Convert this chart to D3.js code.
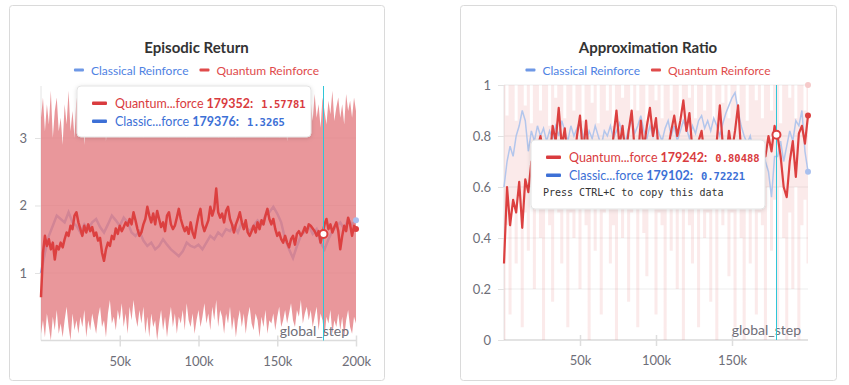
<!DOCTYPE html>
<html>
<head>
<meta charset="utf-8">
<script src="https://cdn.jsdelivr.net/npm/d3@7"></script>
<style>
body { margin: 0; background: #fff; }
</style>
</head>
<body>
<script>

// ---- data ----
// Episodic Return, quantum run, logged every 1250 steps
var returnQuantum = [
  0.64,1.3,1.55,1.4,1.5,1.35,1.45,1.2,1.4,1.35,
  1.45,1.38,1.5,1.6,1.55,1.7,1.65,1.85,1.9,1.75,
  1.65,1.55,1.7,1.6,1.72,1.62,1.68,1.55,1.6,1.48,
  1.52,1.3,1.18,1.35,1.45,1.4,1.55,1.5,1.66,1.58,
  1.7,1.62,1.68,1.75,1.7,1.8,1.72,1.9,1.78,1.65,
  1.55,1.6,1.72,1.8,1.98,1.85,1.75,1.88,1.72,1.92,
  1.8,1.68,1.75,1.62,1.85,1.9,1.72,1.65,1.7,1.82,
  1.95,1.8,1.7,1.62,1.68,1.58,1.75,1.6,1.52,1.7,
  1.85,1.95,1.72,1.62,1.7,1.78,1.98,1.85,1.95,2.25,
  1.9,1.82,1.88,1.75,1.92,1.98,1.8,1.72,1.6,1.72,
  1.8,1.9,1.75,1.65,1.78,1.6,1.55,1.62,1.7,1.6,
  1.75,1.65,1.78,1.72,1.85,1.95,1.8,1.72,1.8,1.65,
  1.55,1.6,1.5,1.45,1.55,1.45,1.38,1.5,1.55,1.42,
  1.58,1.62,1.55,1.6,1.68,1.6,1.72,1.7,1.66,1.62,
  1.55,1.62,1.45,1.58,1.72,1.8,1.65,1.72,1.6,1.68,
  1.75,1.62,1.35,1.55,1.7,1.62,1.82,1.72,1.55,1.7,1.65
];
var returnQuantumMax = [
  3.3,3.6,3.1,3.5,3.2,3.7,3.0,3.4,3.6,3.1,
  3.3,2.9,3.5,3.2,3.7,3.1,3.4,3.0,3.6,3.3,
  3.2,3.5,2.9,3.4,3.1,3.6,3.3,3.0,3.5,3.2,
  3.4,3.1,3.6,2.95,3.3,3.5,3.1,3.4,3.2,3.6,
  3.0,3.35,3.5,3.15,3.4,3.0,3.6,3.25,3.45,3.1,
  3.3,3.55,3.0,3.4,3.2,3.5,3.1,3.35,3.6,3.05,
  3.3,3.45,3.15,3.5,3.25,3.0,3.4,3.6,3.2,3.35,
  3.1,3.5,3.3,3.45,3.0,3.25,3.55,3.2,3.4,3.1,
  3.35,3.6,3.15,3.3,3.5,3.05,3.4,3.25,3.55,3.2,
  3.0,3.45,3.3,3.6,3.1,3.35,3.5,3.2,3.4,3.0,
  3.3,3.55,3.15,3.45,3.25,3.6,3.05,3.35,3.5,3.2,
  3.4,3.1,3.3,3.55,3.0,3.45,3.2,3.35,3.6,3.15,
  3.3,3.0,3.4,3.25,3.5,2.95,3.3,3.45,3.1,3.35,
  3.2,3.5,3.05,3.4,3.6,3.2,3.45,3.55,3.25,3.65,
  3.3,3.5,3.15,3.6,3.4,3.2,3.55,3.35,3.7,3.25,
  3.45,3.6,3.3,3.5,3.2,3.65,3.4,3.55,3.3,3.6,3.4
];
var returnQuantumMin = [
  0.1,0.3,0.05,0.4,0.2,0.0,0.35,0.15,0.45,0.1,
  0.25,0.05,0.3,0.5,0.2,0.0,0.4,0.15,0.3,0.1,
  0.35,0.2,0.45,0.05,0.3,0.15,0.4,0.25,0.1,0.35,
  0.5,0.2,0.3,0.05,0.4,0.6,0.25,0.35,0.15,0.45,
  0.3,0.55,0.2,0.4,0.1,0.5,0.3,0.6,0.35,0.2,
  0.45,0.25,0.5,0.1,0.35,0.05,0.4,0.2,0.3,0.0,
  0.25,0.45,0.15,0.35,0.05,0.3,0.5,0.2,0.4,0.1,
  0.35,0.25,0.45,0.15,0.55,0.3,0.2,0.4,0.1,0.3,
  0.45,0.2,0.35,0.55,0.25,0.4,0.15,0.5,0.3,0.6,
  0.2,0.45,0.35,0.1,0.4,0.25,0.5,0.15,0.35,0.05,
  0.3,0.45,0.2,0.4,0.1,0.35,0.5,0.25,0.15,0.4,
  0.3,0.05,0.35,0.2,0.45,0.1,0.3,0.25,0.4,0.15,
  0.35,0.5,0.2,0.3,0.45,0.25,0.4,0.55,0.3,0.2,
  0.45,0.35,0.6,0.25,0.4,0.5,0.3,0.45,0.2,0.35,
  0.5,0.15,0.4,0.3,0.05,0.35,0.25,0.45,0.1,0.3,
  0.2,0.4,0.15,0.35,0.05,0.3,0.45,0.2,0.1,0.35,0.25
];
// Episodic Return, classical run, logged every 2500 steps
var returnClassical = [
  1.0,1.3,1.55,1.7,1.85,1.8,1.75,1.9,1.75,1.7,
  1.6,1.72,1.65,1.75,1.8,1.68,1.6,1.72,1.85,1.78,
  1.7,1.82,1.75,1.6,1.55,1.62,1.48,1.4,1.45,1.35,
  1.4,1.5,1.42,1.35,1.3,1.25,1.32,1.45,1.4,1.38,
  1.42,1.35,1.45,1.55,1.5,1.6,1.55,1.65,1.62,1.7,
  1.6,1.75,1.68,1.62,1.7,1.78,1.72,1.85,1.9,1.98,
  1.88,1.75,1.5,1.35,1.22,1.4,1.55,1.62,1.7,1.58,
  1.65,1.45,1.35,1.5,1.62,1.7,1.75,1.65,1.8,1.72,
  1.78
];

// Approximation Ratio, both runs logged every 2000 steps
var ratioQuantum = [
  0.30,0.60,0.45,0.55,0.50,0.62,0.44,0.63,0.58,0.70,
  0.66,0.75,0.80,0.72,0.78,0.70,0.84,0.78,0.91,0.76,
  0.83,0.70,0.74,0.68,0.80,0.88,0.72,0.86,0.70,0.74,
  0.66,0.72,0.64,0.70,0.76,0.68,0.80,0.90,0.76,0.84,
  0.72,0.82,0.90,0.74,0.70,0.86,0.75,0.84,0.91,0.80,
  0.87,0.72,0.78,0.68,0.75,0.82,0.88,0.80,0.86,0.94,
  0.82,0.89,0.74,0.70,0.78,0.82,0.72,0.66,0.74,0.70,
  0.78,0.92,0.76,0.70,0.82,0.74,0.82,0.92,0.74,0.68,
  0.72,0.66,0.70,0.64,0.72,0.76,0.72,0.80,0.74,0.84,
  0.80,0.72,0.60,0.56,0.70,0.78,0.64,0.81,0.84,0.77,
  0.88
];
var ratioClassical = [
  0.60,0.70,0.76,0.72,0.80,0.84,0.90,0.86,0.74,0.82,
  0.78,0.84,0.80,0.83,0.78,0.82,0.79,0.84,0.80,0.86,
  0.82,0.78,0.84,0.80,0.83,0.86,0.80,0.77,0.82,0.79,
  0.84,0.80,0.76,0.82,0.80,0.84,0.79,0.82,0.85,0.80,
  0.78,0.83,0.86,0.81,0.84,0.88,0.82,0.79,0.84,0.80,
  0.85,0.81,0.78,0.83,0.86,0.80,0.84,0.78,0.82,0.86,
  0.83,0.79,0.84,0.81,0.86,0.88,0.83,0.86,0.82,0.87,
  0.84,0.80,0.85,0.89,0.92,0.95,0.97,0.90,0.84,0.80,
  0.77,0.80,0.74,0.78,0.72,0.76,0.70,0.66,0.56,0.72,
  0.72,0.78,0.70,0.76,0.82,0.78,0.86,0.84,0.90,0.74,
  0.66
];
var ratioQuantumMax = [
  1,0.88,1,1,0.86,1,1,0.92,1,0.85,
  1,1,0.9,1,1,0.84,1,0.95,1,1,
  0.87,1,1,0.9,1,1,0.86,1,1,0.93,
  1,0.85,1,1,0.9,1,0.84,1,1,0.95,
  1,1,0.88,1,0.9,1,1,0.86,1,1,
  0.94,1,0.87,1,1,0.9,1,1,0.85,1,
  1,0.95,1,0.87,1,1,0.9,1,1,0.86,
  1,1,0.93,1,0.87,1,1,0.9,1,1,
  0.86,1,1,0.94,1,0.87,1,1,0.9,1,
  1,0.85,1,1,0.95,1,0.87,1,1,0.9,
  1
];
var ratioQuantumMin = [
  0.0,0.45,0.1,0.55,0.3,0.6,0.05,0.5,0.35,0.6,
  0.2,0.55,0.4,0.0,0.6,0.45,0.15,0.55,0.5,0.3,
  0.6,0.05,0.5,0.4,0.62,0.2,0.55,0.45,0.0,0.6,
  0.35,0.55,0.1,0.5,0.6,0.3,0.45,0.0,0.58,0.4,
  0.6,0.15,0.5,0.55,0.05,0.6,0.42,0.25,0.55,0.6,
  0.1,0.5,0.45,0.0,0.58,0.35,0.6,0.2,0.52,0.0,
  0.6,0.45,0.3,0.55,0.05,0.6,0.4,0.5,0.15,0.58,
  0.0,0.55,0.45,0.6,0.25,0.5,0.05,0.6,0.4,0.0,
  0.55,0.3,0.6,0.1,0.5,0.45,0.0,0.6,0.35,0.55,
  0.05,0.6,0.4,0.0,0.5,0.2,0.6,0.0,0.45,0.55,
  0.3
];

var returnYTicks = [1, 2, 3];
var ratioYTicks = [0, 0.2, 0.4, 0.6, 0.8, 1];
var returnXTicks = [50000, 100000, 150000, 200000];
var ratioXTicks = [50000, 100000, 150000];

var seriesNames = ["Classical Reinforce", "Quantum Reinforce"];
var returnHover = {quantum: [179352, "1.57781"], classical: [179376, "1.3265"]};
var ratioHover  = {quantum: [179242, "0.80488"], classical: [179102, "0.72221"]};

// ---- drawing ----
var SANS = "Lato, 'Noto Sans', sans-serif";
var MONO = "'DejaVu Sans Mono', 'Liberation Mono', monospace";
var RED = "#dc4040", GREY = "#6e6e78";

var svg = d3.select("body").append("svg")
    .attr("width", 849)
    .attr("height", 385)
    .attr("font-family", SANS);

svg.append("defs").append("filter").attr("id", "shadow")
    .attr("x", "-10%").attr("y", "-20%").attr("width", "120%").attr("height", "150%")
  .append("feDropShadow")
    .attr("dx", 0).attr("dy", 1).attr("stdDeviation", 2)
    .attr("flood-color", "#000").attr("flood-opacity", 0.14);

function frame(card, title) {
  var g = svg.append("g");
  g.append("rect")
      .attr("x", card.x + 0.5).attr("y", card.y + 0.5)
      .attr("width", card.w).attr("height", card.h)
      .attr("rx", 3).attr("fill", "#fff").attr("stroke", "#dadada");
  var cx = card.x + card.w / 2;
  g.append("text")
      .attr("x", cx).attr("y", 53)
      .attr("text-anchor", "middle")
      .attr("font-size", 15).attr("font-weight", 700).attr("fill", "#333")
      .text(title);

  // legend, centred under the title
  var leg = g.append("g");
  var lx = 0;
  seriesNames.forEach(function(name, i) {
    leg.append("rect").attr("x", lx).attr("y", -1.5).attr("width", 10).attr("height", 3)
        .attr("rx", 1).attr("fill", i ? "#e04b4b" : "#6e98e6");
    var t = leg.append("text").attr("x", lx + 17).attr("y", 4.5)
        .attr("font-size", 12).attr("fill", i ? "#e04b4b" : "#4f82e3").text(name);
    lx += 17 + t.node().getComputedTextLength() + 11;
  });
  lx -= 11;
  leg.attr("transform", "translate(" + (cx - lx / 2) + ",70)");
  return g;
}

function axes(g, x, y, xTicks, yTicks, labelPad) {
  var x0 = x.range()[0], x1 = x.range()[1];
  var y0 = y.range()[0], y1 = y.range()[1];

  g.append("g").selectAll("line").data(yTicks).join("line")
      .attr("x1", x0).attr("x2", x1)
      .attr("y1", d => y(d)).attr("y2", d => y(d))
      .attr("stroke", "#ededed");

  var ya = g.append("g").attr("transform", "translate(" + x0 + ",0)")
      .call(d3.axisLeft(y).tickValues(yTicks).tickSize(6).tickPadding(labelPad).tickFormat(d3.format("~g")));
  ya.select(".domain").remove();
  ya.selectAll("line").attr("stroke", "#e2e2e2");
  ya.selectAll("text").attr("font-size", 13).attr("fill", GREY).attr("font-family", SANS);
  g.append("line").attr("x1", x0).attr("x2", x0).attr("y1", y0).attr("y2", y1)
      .attr("stroke", "#e4e4e4");

  var xa = g.append("g").attr("transform", "translate(0," + y0 + ")")
      .call(d3.axisBottom(x).tickValues(xTicks).tickSize(6).tickFormat(d => d / 1000 + "k"));
  xa.select(".domain").remove();
  xa.selectAll("line").attr("y1", -5).attr("y2", 6).attr("stroke", "#dedede").attr("stroke-width", 1.5);
  xa.selectAll("text").attr("y", 16).attr("font-size", 13).attr("fill", GREY).attr("font-family", SANS);
  g.append("line").attr("x1", x0).attr("x2", x1).attr("y1", y0).attr("y2", y0)
      .attr("stroke", "#dcdcdc").attr("stroke-width", 1.5);
}

function stepLabel(g, x, y) {
  g.append("text")
      .attr("x", x.range()[1] - 7).attr("y", y.range()[0] - 5)
      .attr("text-anchor", "end")
      .attr("font-size", 14).attr("fill", GREY)
      .text("global_step");
}

function hoverMarks(g, x, y, step, value) {
  var hx = Math.round(x(step)) + 0.5;
  g.append("line")
      .attr("x1", hx).attr("x2", hx)
      .attr("y1", y.range()[1]).attr("y2", y.range()[0])
      .attr("stroke", "#2fc6d8").attr("stroke-width", 1);
  g.append("circle")
      .attr("cx", x(step)).attr("cy", y(value)).attr("r", 4)
      .attr("fill", "#fff").attr("stroke", RED).attr("stroke-width", 2);
}

function tooltip(g, box, hover, withNote) {
  var t = g.append("g").attr("transform", "translate(" + box.x + "," + box.y + ")");
  t.append("rect").attr("width", box.w).attr("height", box.h).attr("rx", 4)
      .attr("fill", "#fff").attr("stroke", "#e3e3e3").attr("filter", "url(#shadow)");
  var rows = [
    {c: "#d93b3e", name: "Quantum...force", d: hover.quantum},
    {c: "#3d70d6", name: "Classic...force", d: hover.classical}
  ];
  rows.forEach(function(r, i) {
    var ry = 17 + i * 18;
    t.append("rect").attr("x", 15).attr("y", ry - 1.5).attr("width", 15).attr("height", 3.5)
        .attr("rx", 1).attr("fill", r.c);
    var tx = t.append("text").attr("x", 38).attr("y", ry + 4.5).attr("font-size", 12.5).attr("fill", r.c);
    tx.append("tspan").text(r.name);
    tx.append("tspan").attr("font-weight", 700).text(" " + r.d[0] + ":");
    tx.append("tspan").attr("dx", 8).attr("font-weight", 700)
        .attr("font-family", MONO).attr("font-size", 10.5)
        .text(r.d[1]);
  });
  if (withNote) {
    t.append("text").attr("x", 12).attr("y", 56)
        .attr("font-family", MONO).attr("font-size", 10)
        .attr("fill", "#333").text("Press CTRL+C to copy this data");
  }
}

// ---------- Episodic Return ----------
(function() {
  var g = frame({x: 9, y: 5, w: 375, h: 375}, "Episodic Return");
  var x = d3.scaleLinear().domain([0, 200000]).range([41, 356]);
  var y = d3.scaleLinear().domain([0, 3.77]).range([340.5, 86]);
  axes(g, x, y, returnXTicks, returnYTicks, 8);

  // classical mean sits underneath the quantum band
  g.append("path").datum(returnClassical)
      .attr("fill", "none").attr("stroke", "#9db2e6").attr("stroke-width", 2.5)
      .attr("d", d3.line().x((d, i) => x(i * 2500)).y(d => y(d)));

  g.append("path").datum(returnQuantum)
      .attr("fill", "#e2767c").attr("fill-opacity", 0.76)
      .attr("d", d3.area()
          .x((d, i) => x(i * 1250))
          .y0((d, i) => y(returnQuantumMin[i]))
          .y1((d, i) => y(returnQuantumMax[i])));

  stepLabel(g, x, y);

  g.append("path").datum(returnQuantum)
      .attr("fill", "none").attr("stroke", RED).attr("stroke-width", 2.5)
      .attr("stroke-linejoin", "round")
      .attr("d", d3.line().x((d, i) => x(i * 1250)).y(d => y(d)));

  var nQ = returnQuantum.length - 1, nC = returnClassical.length - 1;
  g.append("circle").attr("cx", x(nC * 2500)).attr("cy", y(returnClassical[nC])).attr("r", 3).attr("fill", "#a9c0ee");
  g.append("circle").attr("cx", x(nQ * 1250)).attr("cy", y(returnQuantum[nQ])).attr("r", 3).attr("fill", RED);

  hoverMarks(g, x, y, returnHover.quantum[0], +returnHover.quantum[1]);
  tooltip(g, {x: 77, y: 86, w: 234, h: 51}, returnHover, false);
})();

// ---------- Approximation Ratio ----------
(function() {
  var g = frame({x: 460, y: 5, w: 376, h: 375}, "Approximation Ratio");
  var x = d3.scaleLinear().domain([0, 200000]).range([504, 808]);
  var y = d3.scaleLinear().domain([0, 1]).range([340, 85]);
  axes(g, x, y, ratioXTicks, ratioYTicks, 7);

  g.append("path").datum(ratioQuantum)
      .attr("fill", "#e57a7e").attr("fill-opacity", 0.16)
      .attr("d", d3.area().curve(d3.curveStep)
          .x((d, i) => x(i * 2000))
          .y0((d, i) => y(ratioQuantumMin[i]))
          .y1((d, i) => y(ratioQuantumMax[i])));

  stepLabel(g, x, y);

  g.append("path").datum(ratioClassical)
      .attr("fill", "none").attr("stroke", "#b3c6ec").attr("stroke-width", 1.5)
      .attr("d", d3.line().x((d, i) => x(i * 2000)).y(d => y(d)));

  g.append("path").datum(ratioQuantum)
      .attr("fill", "none").attr("stroke", RED).attr("stroke-width", 2.2)
      .attr("stroke-linejoin", "round")
      .attr("d", d3.line().x((d, i) => x(i * 2000)).y(d => y(d)));

  var n = ratioQuantum.length - 1;
  g.append("circle").attr("cx", x(n * 2000)).attr("cy", y(1)).attr("r", 3).attr("fill", "#f6caca");
  g.append("circle").attr("cx", x(n * 2000)).attr("cy", y(ratioClassical[n])).attr("r", 3).attr("fill", "#a9c0ee");
  g.append("circle").attr("cx", x(n * 2000)).attr("cy", y(ratioQuantum[n])).attr("r", 3).attr("fill", RED);

  hoverMarks(g, x, y, ratioHover.quantum[0], +ratioHover.quantum[1]);
  tooltip(g, {x: 531, y: 140, w: 234, h: 69}, ratioHover, true);
})();

</script>
</body>
</html>
